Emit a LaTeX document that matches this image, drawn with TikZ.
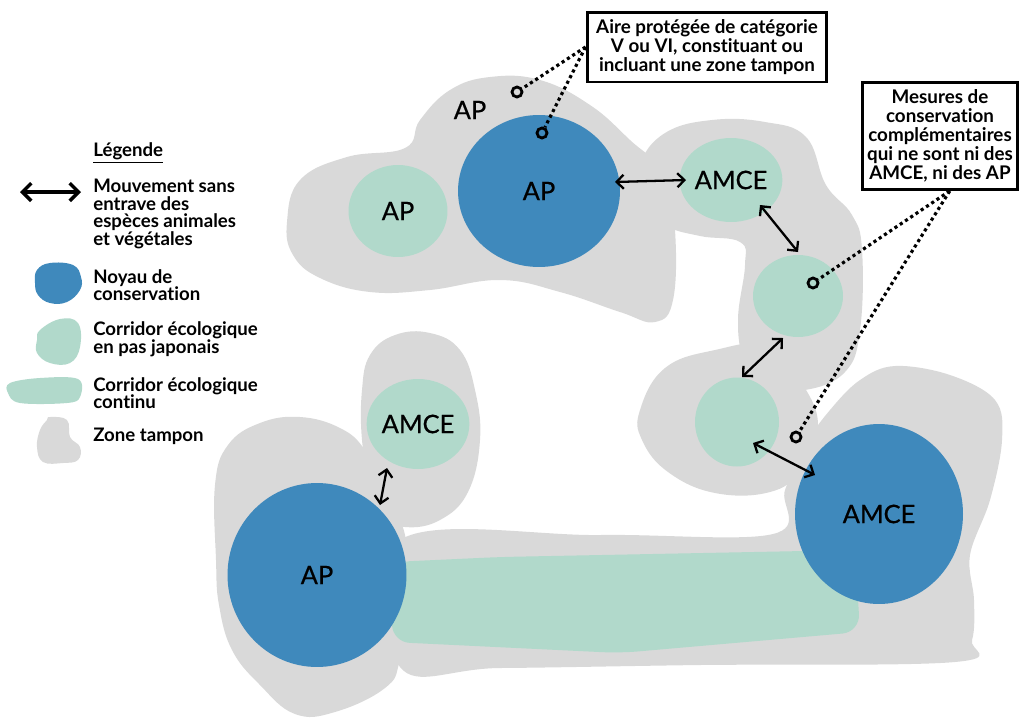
\documentclass[tikz,border=0pt]{standalone}
\usepackage{fontspec}
\setmainfont{Lato}[Ligatures=NoCommon]
\usepackage{tkz-euclide}
\usetikzlibrary{arrows.meta,shapes.geometric}

\definecolor{noyau}{HTML}{3F89BC}
\definecolor{relais}{HTML}{B1D9CB}
\definecolor{tampon}{HTML}{D9D9D9}

\tikzset{
  zone/.style={fill=tampon},
  labelfont/.style={font=\fontsize{14.5}{14.5}\selectfont\addfontfeature{FakeBold=0.6}},
  core/.style={ellipse,fill=noyau,inner sep=0pt,labelfont},
  stone/.style={ellipse,fill=relais,inner sep=0pt,labelfont},
  move/.style={{Straight Barb[length=4pt,width=8pt]}-{Straight Barb[length=4pt,width=8pt]},line width=1.3pt},
  leader/.style={line width=1.8pt,dash pattern=on 1.8pt off 1.8pt},
  ringmark/.style={circle,draw,line width=1.6pt,inner sep=0pt,minimum size=0.2cm},
  note/.style={draw,line width=1.7pt,fill=white,align=center,inner sep=0pt,
    font=\bfseries\fontsize{10.7}{10.8}\selectfont},
  legend/.style={anchor=west,align=left,inner sep=0pt,
    font=\bfseries\fontsize{10.6}{10}\selectfont}
}

\begin{document}
\begin{tikzpicture}[x=0.02cm,y=-0.02cm]
\useasboundingbox (0,0) rectangle (1023,717);

\fill[zone] plot[smooth cycle,tension=0.7] coordinates {(287,222) (300,180) (347,157) (405,148) (420,120) (450,90) (490,77) (540,80) (590,105) (630,140) (665,175) (675,230) (673,300) (655,322) (620,312) (560,292) (500,280) (430,290) (370,292) (320,278) (293,255)};
\fill[zone] plot[smooth cycle,tension=0.7] coordinates {(640,165) (665,133) (712,120) (765,122) (806,137) (826,185) (852,215) (862,250) (860,330) (845,372) (805,390) (770,385) (745,360) (738,320) (745,265) (740,242) (700,236) (665,225) (643,200)};
\fill[zone] plot[smooth cycle,tension=0.7] coordinates {(640,410) (665,368) (715,350) (770,345) (800,380) (818,425) (800,470) (770,492) (715,493) (668,472) (642,440)};
\fill[zone] plot[smooth cycle,tension=0.7] coordinates {(362,390) (370,355) (395,335) (430,333) (460,350) (475,390) (480,440) (468,492) (440,520) (405,527) (380,515) (370,480) (362,440)};
\fill[zone] plot[smooth cycle,tension=0.7] coordinates {(215,485) (228,445) (260,423) (300,417) (340,428) (365,450) (385,490) (405,535) (410,600) (400,660) (385,688) (335,712) (295,714) (260,685) (232,650) (219,605) (216,560)};
\fill[zone] plot[smooth cycle,tension=0.6] coordinates {(400,540) (600,535) (773,534) (785,490) (805,445) (830,410) (860,380) (895,366) (950,375) (995,400) (1002,440) (990,500) (970,555) (974,600) (972,640) (955,662) (700,665) (500,668) (400,667)};

\fill[relais,rounded corners=10] (392,562) -- (500,557) -- (855,550) -- (860,632) -- (620,653) -- (392,642) -- cycle;

\node[stone,minimum width=1.98cm,minimum height=1.84cm] (apA) at (398,211) {AP};
\node[core,minimum width=3.24cm,minimum height=3.04cm] (apB) at (539,191) {AP};
\node[stone,minimum width=1.8cm,minimum height=1.68cm] (amceA) at (731,180) {AMCE};
\node[stone,minimum width=1.8cm,minimum height=1.64cm] (stepA) at (798,296) {};
\node[stone,minimum width=1.68cm,minimum height=1.78cm] (stepB) at (737,422) {};
\node[stone,minimum width=1.66cm,minimum height=1.8cm] (amceB) at (418,424) {AMCE};
\node[core,minimum width=3.58cm,minimum height=3.68cm] (apC) at (317,575) {AP};
\node[core,minimum width=3.36cm,minimum height=3.6cm] (amceC) at (879,514) {AMCE};
\node[labelfont] (apZone) at (470,110) {AP};

\draw[move] ([shift={(76,-9)}]apB.center) -- ([shift={(-45,0)}]amceA.center);
\draw[move] ([shift={(29,25)}]amceA.center) -- ([shift={(0,-44)}]stepA.center);
\draw[move] ([shift={(-15,42)}]stepA.center) -- ([shift={(5,-45)}]stepB.center);
\draw[move] ([shift={(16,21)}]stepB.center) -- ([shift={(-64,-39)}]amceC.center);
\draw[move] ([shift={(-31,44)}]amceB.center) -- ([shift={(63,-70)}]apC.center);

\node[note,minimum width=4.8cm,minimum height=1.4cm] (note1) at (707,47)
  {Aire protégée de catégorie\\V ou VI, constituant ou\\incluant une zone tampon};
\node[note,minimum width=3.1cm,minimum height=2.14cm] (note2) at (940,136)
  {Mesures de\\conservation\\complémentaires\\qui ne sont ni des\\AMCE, ni des AP};

\node[ringmark] (ringA) at (517,92) {};
\node[ringmark] (ringB) at (542,133) {};
\node[ringmark] (ringC) at (813,283) {};
\node[ringmark] (ringD) at (796,437) {};
\draw[leader] (note1.west) -- (ringA);
\draw[leader] (note1.west) -- (ringB);
\draw[leader] (note2.-80) -- (ringC);
\draw[leader] (note2.-80) -- (ringD);

\node[legend] (legTitle) at (93,153) {\underline{Légende}};
\tkzDefPoint(20,192){L1}
\tkzDefPoint(81,192){L2}
\draw[{Straight Barb[length=5pt,width=10pt]}-{Straight Barb[length=5pt,width=10pt]},line width=2pt] (L1) -- (L2);
\node[legend] (legMove) at (93,214) {Mouvement sans\\entrave des\\espèces animales\\et végétales};
\fill[noyau] plot[smooth cycle,tension=0.7] coordinates {(37,270) (50,263) (73,265) (81,277) (80,290) (67,302) (50,303) (38,295) (35,283)};
\node[legend] (legCore) at (93,285) {Noyau de\\conservation};
\fill[relais] plot[smooth cycle,tension=0.7] coordinates {(40,330) (60,319) (78,323) (80,347) (70,363) (50,363) (37,353) (37,340)};
\node[legend] (legStone) at (93,339) {Corridor écologique\\en pas japonais};
\fill[relais] plot[smooth cycle,tension=0.6] coordinates {(10,383) (40,378) (78,379) (80,397) (67,403) (20,403) (8,393)};
\node[legend] (legBar) at (93,393) {Corridor écologique\\continu};
\fill[tampon] plot[smooth cycle,tension=0.7] coordinates {(50,417) (67,420) (70,437) (80,447) (78,460) (63,463) (43,462) (37,447) (40,430) (47,420)};
\node[legend] (legZone) at (93,436) {Zone tampon};
\end{tikzpicture}
\end{document}
